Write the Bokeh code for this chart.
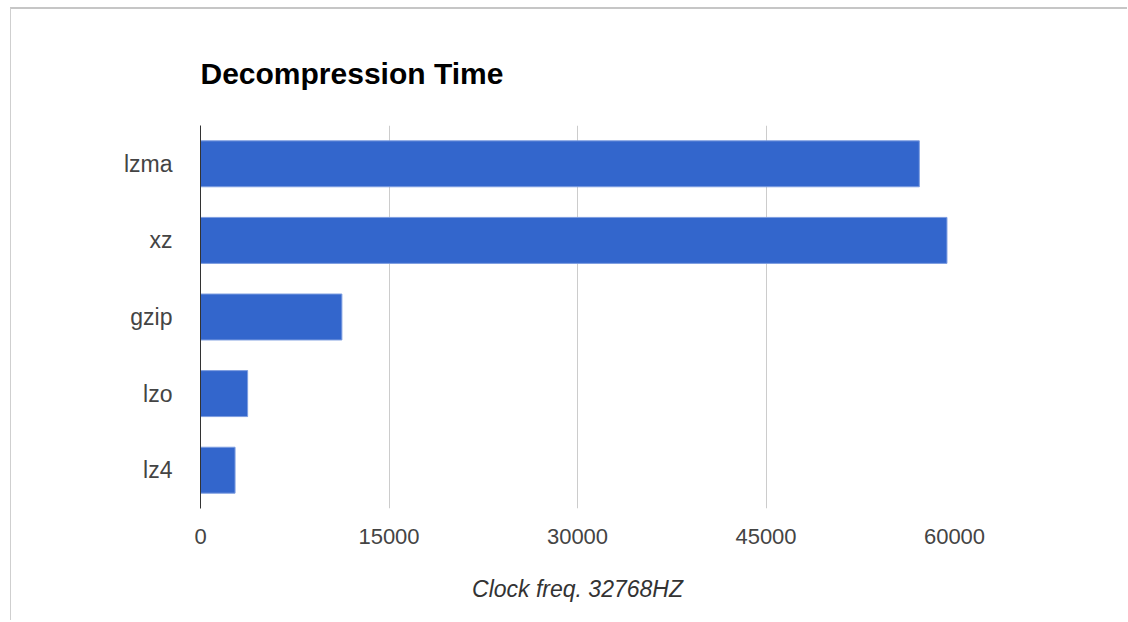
from bokeh.plotting import figure
from bokeh.models import FactorRange, Range1d, FixedTicker
from bokeh.embed import file_html
from bokeh.resources import INLINE

categories = ["lzma", "xz", "gzip", "lzo", "lz4"]
times = [57200, 59400, 11250, 3750, 2750]
ticks = [0, 15000, 30000, 45000, 60000]
title_text = "Decompression Time"
x_label = "Clock freq. 32768HZ"

p = figure(width=1117, height=613, output_backend="svg", toolbar_location=None,
           y_range=FactorRange(factors=categories[::-1], range_padding=0),
           x_range=Range1d(0, 60000),
           min_border_left=189, min_border_right=174, min_border_top=116, min_border_bottom=114)
p.margin = (7, 0, 0, 10)
p.styles = {"border-top": "2px solid #c6c6c6", "border-left": "1px solid #cfcfcf"}

p.hbar(y=categories, right=times, left=0, height=0.6, fill_color="#3366cc",
       line_color="#7d9de0", line_width=1)

p.title.text = title_text
p.title.text_font = "Liberation Sans"
p.title.text_font_style = "bold"
p.title.text_font_size = "30px"
p.title.text_color = "#000000"
p.title.standoff = 71
p.title.align = "left"

p.outline_line_color = None
p.ygrid.grid_line_color = None
p.xgrid.grid_line_color = "#cccccc"
p.xgrid.grid_line_width = 1

p.xaxis.ticker = FixedTicker(ticks=ticks)
p.xaxis.axis_line_color = None
p.xaxis.major_tick_line_color = None
p.xaxis.minor_tick_line_color = None
p.xaxis.major_label_text_font = "Liberation Sans"
p.xaxis.major_label_text_font_size = "22px"
p.xaxis.major_label_text_color = "#444444"
p.xaxis.major_label_standoff = 14
p.xaxis.axis_label = x_label
p.xaxis.axis_label_text_font = "Liberation Sans"
p.xaxis.axis_label_text_font_style = "italic"
p.xaxis.axis_label_text_font_size = "23px"
p.xaxis.axis_label_text_color = "#333333"
p.xaxis.axis_label_standoff = 29

p.yaxis.axis_line_color = "#333333"
p.yaxis.axis_line_width = 1
p.yaxis.major_tick_line_color = None
p.yaxis.minor_tick_line_color = None
p.yaxis.major_label_text_font = "Liberation Sans"
p.yaxis.major_label_text_font_size = "23px"
p.yaxis.major_label_text_color = "#444444"
p.yaxis.major_label_standoff = 22

open("out.html", "w").write(file_html(p, INLINE))
